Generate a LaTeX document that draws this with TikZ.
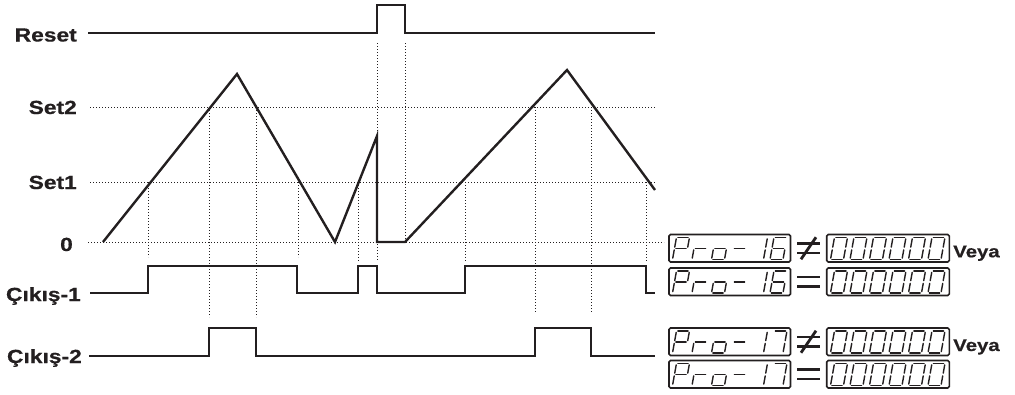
\documentclass[tikz,border=0pt]{standalone}
\usepackage{fontspec}
\newfontfamily\lbl{Liberation Sans Bold}[FakeStretch=1.2,FakeBold=0.6]
\definecolor{ink}{RGB}{35,31,32}
% seven-segment pieces (local units, y negative = up)
\newcommand\segA{\draw[seg] (1.4,-22) -- (11.6,-22);}
\newcommand\segB{\draw[seg] (13,-20.6) -- (13,-12.4);}
\newcommand\segC{\draw[seg] (13,-9.6) -- (13,-1.4);}
\newcommand\segD{\draw[seg] (1.4,0) -- (11.6,0);}
\newcommand\segE{\draw[seg] (0,-9.6) -- (0,-1.4);}
\newcommand\segF{\draw[seg] (0,-20.6) -- (0,-12.4);}
\newcommand\segG{\draw[seg] (1.4,-11) -- (11.6,-11);}
\newcommand\digit[3]{\begin{scope}[shift={(#1,#2)},xslant=0.18]\foreach \s in {#3}{\csname seg\s\endcsname}\end{scope}}
\newcommand\prorow[3]{%
  \draw[dispbox] (669,#1) rectangle (790.5,#1+27.5);
  \digit{672.5}{#1+25}{A,B,E,F,G}
  \digit{692}{#1+25}{E,G}
  \digit{711.5}{#1+25}{C,D,E,G}
  \digit{731}{#1+25}{G}
  \digit{750.5}{#1+25}{#2}
  \digit{770}{#1+25}{#3}
  \draw[dispbox] (826.7,#1) rectangle (949.3,#1+27.5);
  \foreach \i in {0,...,5}{\digit{830.5+19.5*\i}{#1+25}{A,B,C,D,E,F}}
}
\newcommand\releq[1]{\draw[rel] (797,#1-4.7) -- (820,#1-4.7); \draw[rel] (797,#1+4.7) -- (820,#1+4.7);}
\newcommand\relne[1]{\releq{#1}\draw[rel] (816,#1-11) -- (801,#1+11);}
\begin{document}
\begin{tikzpicture}[x=1pt,y=-1pt,line join=miter,
  trace/.style={ink,line width=2.4pt},
  gridl/.style={ink,line width=0.9pt,dash pattern=on 0.9pt off 2.1pt},
  lab/.style={text=ink,font=\lbl\fontsize{19}{19}\selectfont,inner sep=0pt,anchor=base east},
  veya/.style={text=ink,font=\lbl\fontsize{17}{17}\selectfont,inner sep=0pt,anchor=base west},
  dispbox/.style={draw=ink,line width=1.6pt,rounded corners=1.5pt},
  seg/.style={ink,line width=1.4pt,line cap=round},
  rel/.style={ink,line width=2.8pt}]
\useasboundingbox (0,0) rectangle (1015,394);
% grid
\draw[gridl] (90,107) -- (656,107);
\draw[gridl] (90,182) -- (656,182);
\draw[gridl] (88,242) -- (664,242);
\foreach \x/\a/\b in {148/182/257, 209/107/317, 256/107/317, 298/182/257, 358/182/261, 377/43/261, 405/43/242, 465/182/261, 535/107/312, 591/107/312, 646/182/261}
  \draw[gridl] (\x,\a) -- (\x,\b);
% traces
\draw[trace] (88,33) -- (377,33) -- (377,5) -- (405,5) -- (405,33) -- (655,33);
\draw[trace] (103,242) -- (237,74) -- (335,242) -- (377,136) -- (377,242) -- (405,242) -- (567,70) -- (655,190);
\draw[trace] (90,293) -| (148,266) -| (297,293) -| (358,266) -| (377,293) -| (465,266) -| (646,293) -- (655,293);
\draw[trace] (89,356) -| (209,328) -| (256,356) -| (535,328) -| (591,356) -- (655,356);
% labels
\node[lab] (lreset) at (77,41.5) {Reset};
\node[lab] (lset2) at (77,114) {Set2};
\node[lab] (lset1) at (77,189) {Set1};
\node[lab] (lzero) at (73,251) {0};
\node[lab] (lc1) at (81,301) {Çıkış-1};
\node[lab] (lc2) at (82,363) {Çıkış-2};
% displays
\prorow{234.5}{B,C}{A,C,D,E,F,G}
\relne{248.25}
\prorow{268}{B,C}{A,C,D,E,F,G}
\releq{281.75}
\prorow{328}{B,C}{A,B,C}
\relne{341.75}
\prorow{360.5}{B,C}{A,B,C}
\releq{374.25}
\node[veya] (veya1) at (953,257.3) {Veya};
\node[veya] (veya2) at (953,351) {Veya};
\end{tikzpicture}
\end{document}
